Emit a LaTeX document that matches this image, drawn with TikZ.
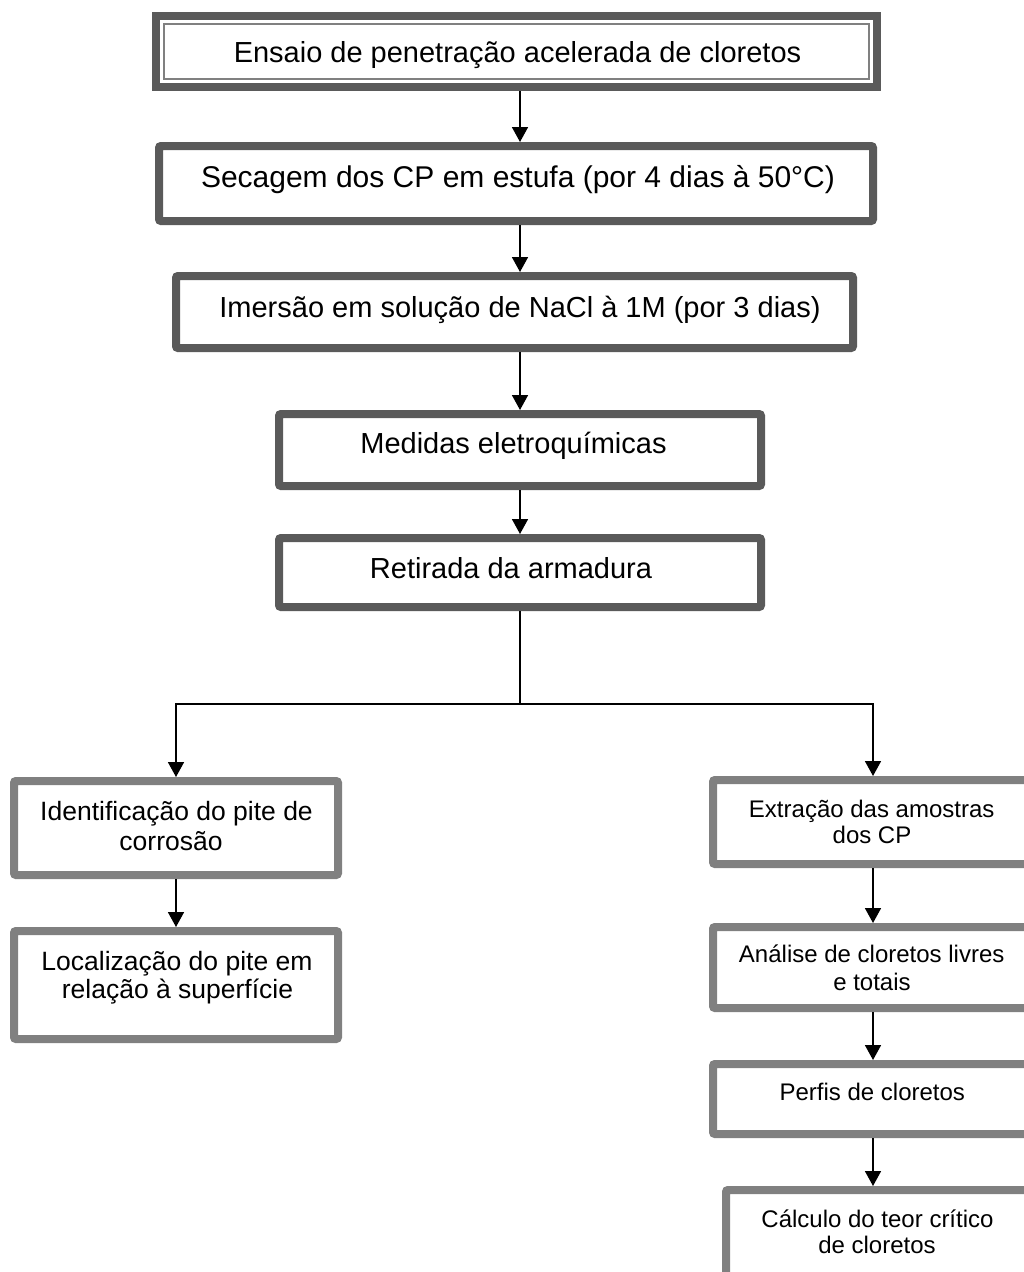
\documentclass[tikz,border=0pt]{standalone}
\usepackage{fontspec}
\setmainfont{Liberation Sans}
\usetikzlibrary{arrows.meta}
\definecolor{dkgray}{HTML}{5A5A5A}
\definecolor{ltgray}{HTML}{808080}
\tikzset{
  dbox/.style={draw=dkgray, line width=8pt, rounded corners=2pt, fill=white, inner sep=0pt},
  lbox/.style={draw=ltgray, line width=8pt, rounded corners=2pt, fill=white, inner sep=0pt},
  txt/.style={anchor=base, inner sep=0pt, text=black},
  big/.style={font=\fontsize{29}{34}\selectfont},
  mid/.style={font=\fontsize{26.5}{31}\selectfont},
  sml/.style={font=\fontsize{24}{28}\selectfont},
  arr/.style={draw=black, line width=1.7pt, -{Triangle[width=16pt,length=15pt]}},
  ln/.style={draw=black, line width=1.7pt}
}
\begin{document}
\begin{tikzpicture}[x=1pt,y=-1pt]
\clip (0,0) rectangle (1024,1272);
\fill[white] (0,0) rectangle (1024,1272);

% boxes
\node[dbox, rounded corners=0pt, minimum width=721pt, minimum height=71pt] (b1) at (516.5,51.5) {};
\draw[ltgray, line width=2pt] ([xshift=12pt,yshift=-12pt]b1.north west) rectangle ([xshift=-12pt,yshift=12pt]b1.south east);
\node[dbox, minimum width=714pt, minimum height=75pt] (b2) at (516,183.5) {};
\node[dbox, minimum width=677pt, minimum height=72pt] (b3) at (514.5,312) {};
\node[dbox, minimum width=482pt, minimum height=72pt] (b4) at (520,450) {};
\node[dbox, minimum width=482pt, minimum height=69pt] (b5) at (520,572.5) {};
\node[lbox, minimum width=324pt, minimum height=94pt] (l1) at (176,828) {};
\node[lbox, minimum width=324pt, minimum height=108pt] (l2) at (176,985) {};
\node[lbox, minimum width=320pt, minimum height=84pt] (r1) at (873,822) {};
\node[lbox, minimum width=320pt, minimum height=81pt] (r2) at (873,967.5) {};
\node[lbox, minimum width=320pt, minimum height=70pt] (r3) at (873,1099) {};
\node[lbox, minimum width=303pt, minimum height=86pt] (r4) at (877.5,1233) {};

% texts
\node[txt, big] (t1) at (517.5,62) {Ensaio de penetração acelerada de cloretos};
\node[txt, font=\fontsize{30}{35}\selectfont] (t2) at (518,187) {Secagem dos CP em estufa (por 4 dias à 50°C)};
\node[txt, big] (t3) at (520,317) {Imersão em solução de NaCl à 1M (por 3 dias)};
\node[txt, big] (t4) at (513.5,453) {Medidas eletroquímicas};
\node[txt, big] (t5) at (511,578) {Retirada da armadura};

\node[txt, mid] (l1a) at (176.5,820) {Identificação do pite de};
\node[txt, mid] (l1b) at (171,850) {corrosão};
\node[txt, mid] (l2a) at (177,970) {Localização do pite em};
\node[txt, mid] (l2b) at (177.5,998) {relação à superfície};

\node[txt, sml] (r1a) at (871.7,817) {Extração das amostras};
\node[txt, sml] (r1b) at (872,843) {dos CP};
\node[txt, sml] (r2a) at (871.7,962) {Análise de cloretos livres};
\node[txt, sml] (r2b) at (872,990) {e totais};
\node[txt, sml] (r3a) at (872.3,1100) {Perfis de cloretos};
\node[txt, sml] (r4a) at (877.5,1227) {Cálculo do teor crítico};
\node[txt, sml] (r4b) at (877,1253) {de cloretos};

% connectors
\draw[arr] (b1.south -| b4.north) -- (b2.north -| b4.north);
\draw[arr] (b2.south -| b4.north) -- (b3.north -| b4.north);
\draw[arr] (b3.south -| b4.north) -- (b4.north);
\draw[arr] (b4.south) -- (b5.north);
\coordinate (j) at (520,704);
\draw[ln] (b5.south) -- (j);
\draw[arr] (j) -| (l1.north);
\draw[arr] (j) -| (r1.north);
\draw[arr] (l1.south) -- (l2.north);
\draw[arr] (r1.south) -- (r2.north);
\draw[arr] (r2.south) -- (r3.north);
\draw[arr] (r3.south) -- (r4.north -| r3.south);
\end{tikzpicture}
\end{document}
